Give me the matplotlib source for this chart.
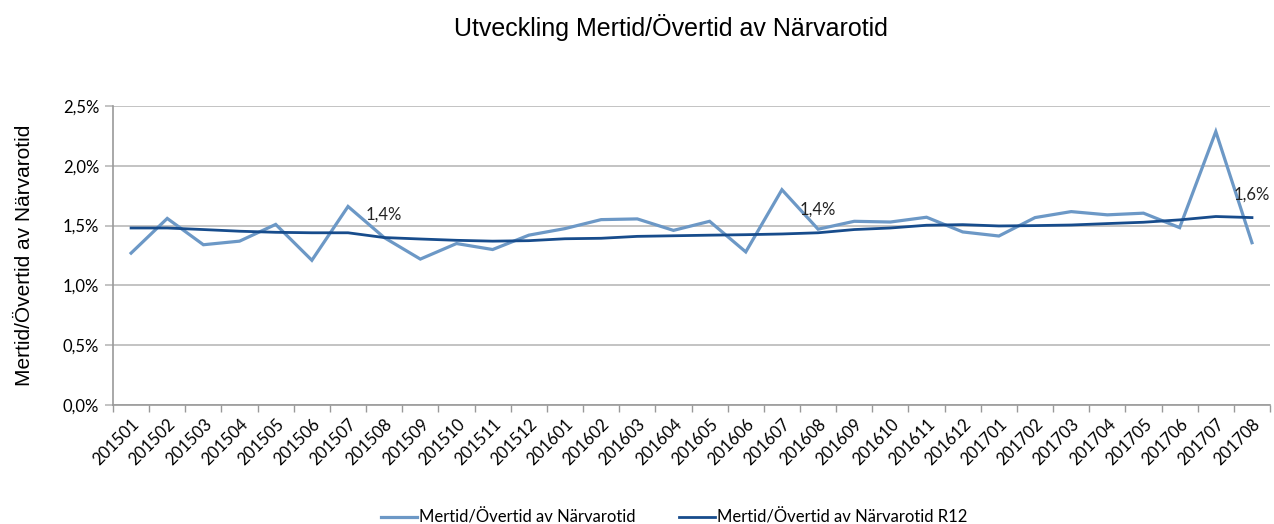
import matplotlib
matplotlib.use('Agg')
import matplotlib.pyplot as plt
from matplotlib.ticker import FuncFormatter, MultipleLocator

# periods (yyyymm)
periods = ['201501', '201502', '201503', '201504', '201505', '201506', '201507', '201508',
           '201509', '201510', '201511', '201512', '201601', '201602', '201603', '201604',
           '201605', '201606', '201607', '201608', '201609', '201610', '201611', '201612',
           '201701', '201702', '201703', '201704', '201705', '201706', '201707', '201708']

# monthly share, percent
monthly = [1.27, 1.56, 1.34, 1.37, 1.51, 1.21, 1.66, 1.40,
           1.22, 1.35, 1.30, 1.42, 1.475, 1.55, 1.556, 1.46,
           1.536, 1.28, 1.80, 1.47, 1.536, 1.53, 1.57, 1.447,
           1.413, 1.567, 1.617, 1.59, 1.604, 1.483, 2.286, 1.357]

# rolling 12 months, percent
r12 = [1.48, 1.48, 1.467, 1.453, 1.444, 1.44, 1.44, 1.40,
       1.388, 1.377, 1.37, 1.374, 1.39, 1.394, 1.41, 1.415,
       1.42, 1.424, 1.43, 1.44, 1.467, 1.48, 1.503, 1.508,
       1.497, 1.50, 1.505, 1.517, 1.528, 1.548, 1.576, 1.567]

# which R12 points get a data label
label_idx = [7, 19, 31]

title = 'Utveckling Mertid/Övertid av Närvarotid'
ylabel = 'Mertid/Övertid av Närvarotid'
name_monthly = 'Mertid/Övertid av Närvarotid'
name_r12 = 'Mertid/Övertid av Närvarotid R12'

c_light = '#6C98C6'
c_dark = '#174C8C'
c_grid = '#BEBEBE'
calibri = 'Lato'
arial = 'Liberation Sans'

fig = plt.figure(figsize=(12.74, 5.24), dpi=100)
ax = fig.add_axes([0.0887, 0.2271, 0.9082, 0.5706])

x = list(range(len(periods)))
ax.plot(x, monthly, color=c_light, lw=2.3, solid_joinstyle='miter', label=name_monthly, zorder=3)
ax.plot(x, r12, color=c_dark, lw=2.0, label=name_r12, zorder=4)

for i in label_idx:
    ax.annotate(('%.1f%%' % r12[i]).replace('.', ','), (x[i], r12[i]),
                xytext=(0, 11), textcoords='offset points', ha='center', va='bottom',
                fontsize=12, family=calibri, color='#222222', zorder=5)

ax.set_xlim(-0.5, len(periods) - 0.5)
ax.set_ylim(0, 2.5)
ax.yaxis.set_major_locator(MultipleLocator(0.5))
ax.yaxis.set_major_formatter(FuncFormatter(lambda v, p: ('%.1f%%' % v).replace('.', ',')))
ax.grid(axis='y', color=c_grid, lw=1.3)
ax.set_axisbelow(True)

ax.set_xticks(x)
ax.set_xticklabels(periods, rotation=45, ha='right', rotation_mode='anchor',
                   fontsize=12, family=calibri)
ax.set_xticks([i - 0.5 for i in range(len(periods) + 1)], minor=True)
ax.tick_params(axis='x', which='major', length=0, pad=8)
ax.tick_params(axis='x', which='minor', length=5, color='#999999', width=1)
ax.tick_params(axis='y', length=6, color=c_grid, width=1.3, labelsize=12, pad=4)
for lab in ax.get_yticklabels():
    lab.set_family(calibri)

for s in ['top', 'right']:
    ax.spines[s].set_visible(False)
ax.spines['left'].set_color('#999999')
ax.spines['bottom'].set_color('#999999')
ax.spines['left'].set_linewidth(1.2)
ax.spines['bottom'].set_linewidth(1.2)

ax.set_ylabel(ylabel, fontsize=15, family=arial, labelpad=21)
fig.text(0.527, 0.947, title, ha='center', va='center', fontsize=18, family=arial)

fig.legend(loc='center', bbox_to_anchor=(0.529, 0.012), ncol=2, frameon=False,
           prop={'family': calibri, 'size': 12}, handlelength=2.2, handletextpad=0.1,
           columnspacing=2.6)

plt.savefig('out.png', dpi=100)
